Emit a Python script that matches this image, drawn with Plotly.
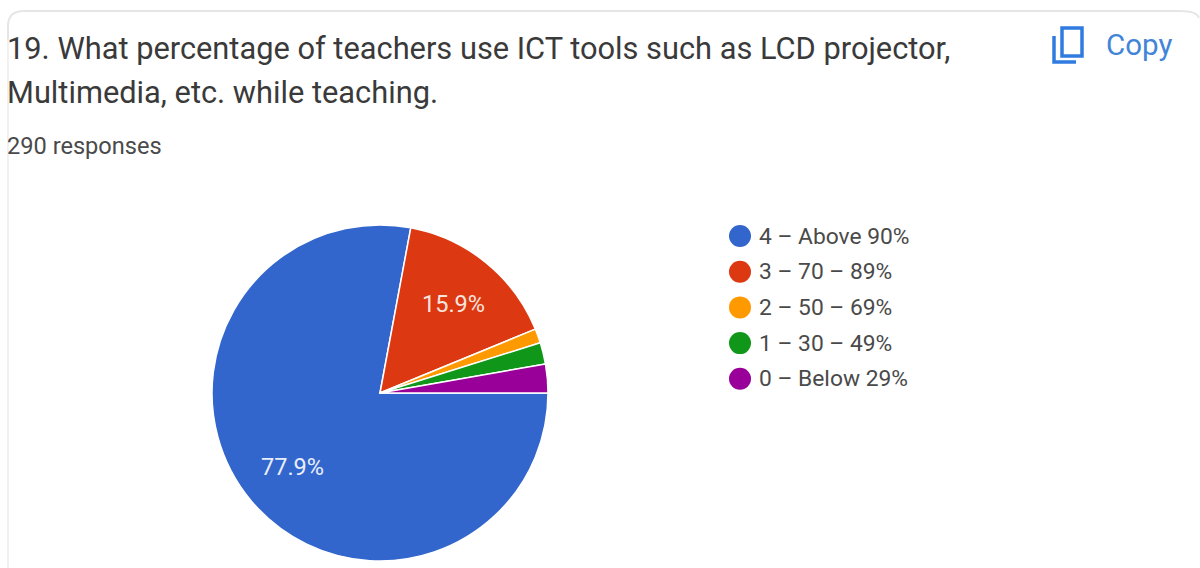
import plotly.graph_objects as go

categories = ["4 – Above 90%", "3 – 70 – 89%", "2 – 50 – 69%", "1 – 30 – 49%", "0 – Below 29%"]
values = [226, 46, 4, 6, 8]
slice_labels = ["77.9%", "15.9%"]
colors = ["#3366CC", "#DC3912", "#FF9900", "#109618", "#990099"]
title_lines = ["19. What percentage of teachers use ICT tools such as LCD projector,", "Multimedia, etc. while teaching."]
subtitle = "290 responses"
W, H = 1200, 568


def px(x):
    return x / W


def py(y):
    return 1 - y / H


fig = go.Figure()
fig.add_trace(go.Pie(
    labels=categories, values=values, textinfo="none",
    sort=False, direction="clockwise", rotation=90, showlegend=False,
    marker=dict(colors=colors, line=dict(color="white", width=1.5)),
    domain=dict(x=[px(212), px(548)], y=[py(561), py(225)]),
    hoverinfo="label+percent",
))

shapes = []
annotations = []


def text(x, y, s, size, color, anchor="left"):
    annotations.append(dict(x=px(x), y=py(y), xref="paper", yref="paper", text=s, showarrow=False,
                            xanchor=anchor, yanchor="middle", xshift=0, font=dict(family="Roboto", size=size, color=color)))


text(5, 48, title_lines[0], 30.8, "#3A3A3A")
text(5, 92, title_lines[1], 30.8, "#3A3A3A")
text(5, 146, subtitle, 23.6, "#4A4A4A")
text(1104, 45, "Copy", 29.5, "#4285D8")

# labels on the two large slices
text(292, 467, slice_labels[0], 23.5, "#E8EEFA", "center")
text(453, 304, slice_labels[1], 23.5, "#F8E4DE", "center")

# card outline
shapes.append(dict(type="path", xref="paper", yref="paper", line=dict(color="#E6E6E6", width=2),
                   path=f"M {px(8)} {py(40)} L {px(8)} {py(26)} Q {px(8)} {py(11)} {px(24)} {py(11)} L {px(1180)} {py(11)} Q {px(1197)} {py(11)} {px(1199)} {py(18)}"))
shapes.append(dict(type="line", xref="paper", yref="paper", line=dict(color="#F1F1F1", width=2),
                   x0=px(8), x1=px(8), y0=py(40), y1=py(568)))

# copy icon
shapes.append(dict(type="rect", xref="paper", yref="paper", x0=px(1062), x1=px(1082), y0=py(56), y1=py(28),
                   line=dict(color="#2F7BE0", width=3.5), fillcolor="white"))
shapes.append(dict(type="path", xref="paper", yref="paper", line=dict(color="#2F7BE0", width=3.5),
                   path=f"M {px(1054)} {py(36)} L {px(1054)} {py(62)} L {px(1076)} {py(62)}"))

# legend
for i, (cat, c) in enumerate(zip(categories, colors)):
    y = 236 + i * 35.7
    shapes.append(dict(type="circle", xref="paper", yref="paper", x0=px(729), x1=px(751), y0=py(y + 11), y1=py(y - 11),
                       fillcolor=c, line=dict(width=0)))
    text(757, y, cat, 22.8, "#4A4A4A")

fig.update_layout(width=W, height=H, margin=dict(l=0, r=0, t=0, b=0), paper_bgcolor="white",
                  shapes=shapes, annotations=annotations, showlegend=False)
fig.write_html("out.html", config=dict(displayModeBar=False),
               post_script="document.body.style.margin='0';document.body.style.overflow='hidden';")
